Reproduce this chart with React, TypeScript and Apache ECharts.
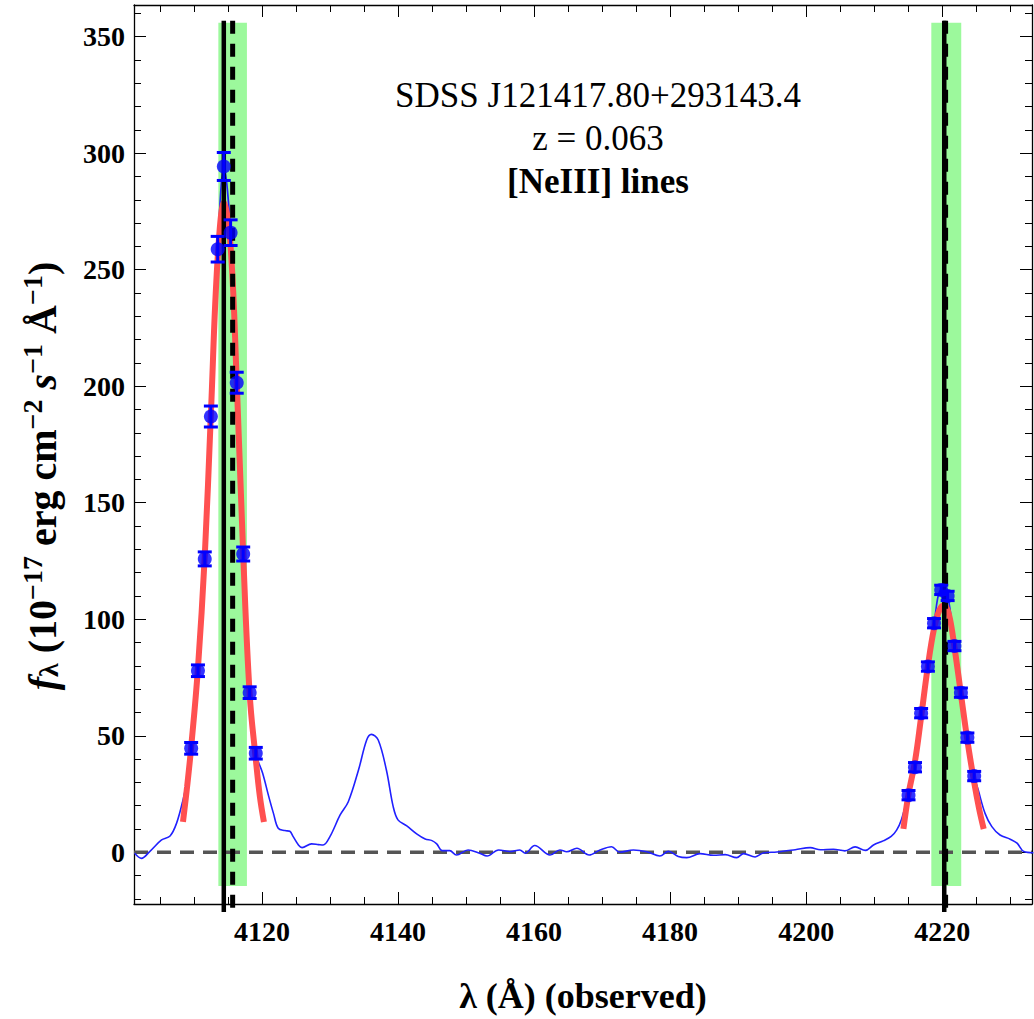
import React, { useEffect, useRef } from "react";
import * as echarts from "echarts";

// ---- data ----
const xRange = [4101.2, 4233.2];
const yRange = [-22.2, 363.6];

// thin blue spectrum [lambda, flux]
const spectrum: number[][] = [
  [4101.3, -0.4], [4102.3, -2.6], [4103.5, 0.3], [4105.25, 5.3], [4106.5, 7.0], [4107.45, 12.4],
  [4108.4, 22.4], [4109.0, 31], [4109.6, 44.6], [4110.6, 77.9], [4111.6, 125.9], [4112.5, 187.0],
  [4113.5, 258.8], [4114.4, 294.3], [4115.4, 265.9], [4116.3, 201.5], [4117.25, 128.0], [4118.2, 68.5],
  [4119.1, 42.5], [4120.1, 34], [4121.0, 24], [4121.7, 16.7], [4122.4, 10.3], [4123.4, 9.3],
  [4124.1, 9.0], [4124.6, 6.7], [4125.4, 3.0], [4125.9, 2.0], [4127.3, 3.6], [4128.3, 3.3],
  [4129.0, 3.1], [4130.0, 6.7], [4131.5, 16.0], [4132.7, 21.7], [4134.2, 35.3], [4135.4, 48.2],
  [4136.1, 50.6], [4137.1, 48.2], [4138.3, 35.3], [4139.3, 19.6], [4140.0, 13.9], [4141.3, 11.3],
  [4142.75, 7.9], [4144.0, 5.7], [4145.0, 5.0], [4145.7, 3.6], [4146.5, 0.7], [4147.6, 0.7],
  [4148.6, -1.2], [4150.3, 1.0], [4152.0, -0.4], [4153.1, -1.6], [4154.8, 1.0], [4156.5, 0.3],
  [4157.9, 1.0], [4158.7, -0.4], [4160.1, 2.9], [4162.35, -1.2], [4163.8, 1.0], [4164.8, 0.2],
  [4166.3, 1.7], [4168.1, -1.2], [4169.7, 1.0], [4171.4, 2.4], [4172.6, 0], [4174.6, 1.0],
  [4176.6, 0.2], [4178.5, -1.6], [4179.75, 0.4], [4181.2, -1.8], [4182.45, -2.3], [4184.4, -0.6],
  [4186.4, -1.3], [4188.1, -1.0], [4189.8, -2.3], [4190.8, -0.6], [4192.5, -2.0], [4193.7, -0.3],
  [4195.7, 0.1], [4198.4, 1.1], [4200.6, 2.0], [4202.1, 1.1], [4204.0, 1.3], [4205.7, 0.6],
  [4207.2, 2.3], [4208.7, 0.8], [4209.9, 3.1], [4211.4, 5.0], [4212.5, 6.8], [4213.3, 9.5],
  [4214.0, 14], [4215.05, 25], [4216.0, 36.5], [4216.9, 59.7], [4217.9, 79.7], [4218.8, 98.3],
  [4219.85, 112.6], [4220.8, 110.0], [4221.8, 88.5], [4222.75, 68.5], [4223.7, 49.2], [4224.7, 32.7],
  [4225.3, 26.7], [4226.3, 16.7], [4227.3, 11.0], [4228.5, 7.4], [4230.0, 5.6], [4231.0, 3.9],
  [4232.0, 0.3], [4233.4, -0.2],
];

// measured points with errors [lambda, flux, err]
const pointsLeft: number[][] = [
  [4109.6, 44.6, 2.5], [4110.6, 77.9, 2.5], [4111.6, 125.9, 3], [4112.5, 187.0, 4.5],
  [4113.5, 258.8, 5.5], [4114.4, 294.3, 6], [4115.4, 265.9, 5.5], [4116.3, 201.5, 4.5],
  [4117.25, 128.0, 3], [4118.2, 68.5, 2.5], [4119.1, 42.5, 2.5],
];
const pointsRight: number[][] = [
  [4215.05, 24.5, 2], [4216.0, 36.5, 2], [4216.9, 59.7, 2], [4217.9, 79.7, 2],
  [4218.8, 98.3, 2], [4219.85, 112.6, 2], [4220.8, 110.0, 2], [4221.8, 88.5, 2],
  [4222.75, 68.5, 2], [4223.7, 49.2, 2], [4224.7, 32.7, 2],
];

// red fitted profiles
const fitLeft: number[][] = [
  [4108.4, 13], [4109.0, 28], [4109.6, 45], [4110.6, 79], [4111.6, 127], [4112.5, 188],
  [4113.5, 255], [4114.45, 279], [4115.4, 260], [4116.3, 202], [4117.25, 128], [4118.2, 68],
  [4119.1, 40], [4119.7, 24], [4120.3, 13],
];
const fitRight: number[][] = [
  [4214.3, 10], [4215.05, 25], [4216.0, 39], [4216.9, 58], [4217.9, 80], [4218.8, 96],
  [4219.6, 104], [4220.3, 106], [4221.0, 102], [4221.8, 88], [4222.75, 68], [4223.7, 48],
  [4224.7, 30], [4225.4, 19], [4226.1, 10],
];

// reference lines
const solidLines = [4114.4, 4220.3];
const dashedLines = [4115.7, 4220.5];
const lineSpan = [-25.6, 356.8];
const bands: number[][] = [[4113.6, 4117.8], [4218.4, 4222.8]];
const bandSpan = [-14.5, 356];

const annot = ["SDSS J121417.80+293143.4", "z = 0.063", "[NeIII] lines"];
const yTitle = "{it|f}{sub|λ}{b| (10}{sup|−17}{b| erg cm}{sup|−2}{it| s}{sup|−1}{b| Å}{sup|−1}{b|)}";
const xTitle = "λ (Å) (observed)";

const SERIF = "'Liberation Serif', 'Times New Roman', serif";

export default function App() {
  const ref = useRef<HTMLDivElement>(null);
  useEffect(() => {
    if (!ref.current) return;
    const chart = echarts.init(ref.current, undefined, { renderer: "svg" });

    const tickCommon = {
      axisLine: { show: true, onZero: false, lineStyle: { color: "#000", width: 1.3 } },
      axisTick: { show: true, inside: true, length: 12, lineStyle: { color: "#000", width: 1 } },
      splitLine: { show: false },
    };
    const xBase = {
      type: "value", min: xRange[0], max: xRange[1], splitNumber: 7, minInterval: 20, maxInterval: 20,
      ...tickCommon,
      minorTick: { show: true, splitNumber: 4, length: 7, lineStyle: { color: "#000", width: 1 } },
    };
    const yBase = {
      type: "value", min: yRange[0], max: yRange[1], splitNumber: 8, minInterval: 50, maxInterval: 50,
      ...tickCommon,
      minorTick: { show: true, splitNumber: 5, length: 7, lineStyle: { color: "#000", width: 1 } },
    };
    const labelStyle = {
      fontFamily: SERIF, fontSize: 28, fontWeight: "bold", color: "#000",
      showMinLabel: false, showMaxLabel: false,
      formatter: (v: number) => String(v),
    };

    const vline = (x: number) => [[x, lineSpan[1]], [x, lineSpan[0]]];

    const errorBar = (params: any, api: any) => {
      const x = api.value(0), lo = api.value(1), hi = api.value(2);
      const p1 = api.coord([x, lo]);
      const p2 = api.coord([x, hi]);
      const w = 7;
      const style = { stroke: "#0000ff", lineWidth: 3 };
      return {
        type: "group",
        children: [
          { type: "line", shape: { x1: p1[0], y1: p1[1], x2: p2[0], y2: p2[1] }, style },
          { type: "line", shape: { x1: p1[0] - w, y1: p1[1], x2: p1[0] + w, y2: p1[1] }, style },
          { type: "line", shape: { x1: p2[0] - w, y1: p2[1], x2: p2[0] + w, y2: p2[1] }, style },
        ],
      };
    };
    const allPts = pointsLeft.concat(pointsRight);

    const bandRender = (params: any, api: any) => {
      const x0 = api.value(0), x1 = api.value(1);
      const a = api.coord([x0, bandSpan[1]]);
      const b = api.coord([x1, bandSpan[0]]);
      return {
        type: "rect",
        shape: { x: a[0], y: a[1], width: b[0] - a[0], height: b[1] - a[1] },
        style: { fill: "#9cf99c" },
      };
    };

    const main = { fontFamily: SERIF, fontSize: 40, fontWeight: "bold", color: "#000", lineHeight: 44, verticalAlign: "bottom" };

    const option: any = {
      animation: false,
      backgroundColor: "#fff",
      grid: { left: 134, top: 5, right: 2, bottom: 115, containLabel: false },
      xAxis: [
        {
          ...xBase, position: "bottom",
          axisLabel: { ...labelStyle, margin: 13 },
          name: xTitle, nameLocation: "middle", nameGap: 74,
          nameTextStyle: { fontFamily: SERIF, fontSize: 36, fontWeight: "bold", color: "#000" },
        },
        { ...xBase, position: "top", axisLabel: { show: false } },
      ],
      yAxis: [
        { ...yBase, position: "left", axisLabel: { ...labelStyle, margin: 9 } },
        { ...yBase, position: "right", axisLabel: { show: false } },
      ],
      graphic: [
        ...annot.map((t, i) => ({
          type: "text",
          x: 598,
          y: 95 + i * 43,
          z: 100,
          style: {
            text: t,
            fontFamily: SERIF,
            fontSize: 35,
            fontWeight: i === 2 ? "bold" : "normal",
            fill: "#000",
            textAlign: "center",
            textVerticalAlign: "middle",
          },
        })),
        {
          type: "text",
          x: 40,
          y: 476,
          rotation: Math.PI / 2,
          z: 100,
          style: {
            text: yTitle,
            textAlign: "center",
            textVerticalAlign: "middle",
            fill: "#000",
            rich: {
              b: main,
              it: { ...main, fontStyle: "italic" },
              sup: { fontFamily: SERIF, fontSize: 28, fontWeight: "bold", color: "#000", lineHeight: 26, verticalAlign: "top" },
              sub: { fontFamily: SERIF, fontSize: 28, fontWeight: "bold", color: "#000", lineHeight: 18, verticalAlign: "bottom" },
            },
          },
        },
      ],
      series: [
        {
          type: "custom", name: "bands", renderItem: bandRender, data: bands,
          encode: { x: [0, 1] }, z: 1, silent: true,
        },
        {
          type: "line", name: "zero", data: [[xRange[0], 0], [xRange[1], 0]], symbol: "none",
          lineStyle: { color: "#555", width: 3.5, type: [14, 9] }, z: 2, silent: true,
        },
        {
          type: "line", name: "spectrum", data: spectrum, symbol: "none", smooth: 0.35,
          lineStyle: { color: "#2020ff", width: 1.6 }, z: 3,
        },
        {
          type: "line", name: "fitL", data: fitLeft, symbol: "none", smooth: 0.4,
          lineStyle: { color: "#ff5050", width: 6 }, z: 4,
        },
        {
          type: "line", name: "fitR", data: fitRight, symbol: "none", smooth: 0.4,
          lineStyle: { color: "#ff5050", width: 6 }, z: 4,
        },
        ...solidLines.map((x) => ({
          type: "line", data: vline(x), symbol: "none", clip: false,
          lineStyle: { color: "#000", width: 4.5 }, z: 5,
        })),
        ...dashedLines.map((x) => ({
          type: "line", data: vline(x), symbol: "none", clip: false,
          lineStyle: { color: "#000", width: 5, type: [13, 10] }, z: 5,
        })),
        {
          type: "custom", name: "err", renderItem: errorBar,
          data: allPts.map((p) => [p[0], p[1] - p[2], p[1] + p[2]]),
          encode: { x: 0, y: [1, 2] }, z: 6,
        },
        {
          type: "scatter", name: "points", data: allPts.map((p) => [p[0], p[1]]),
          symbol: "circle", symbolSize: 14, itemStyle: { color: "#0000ff" }, z: 7,
        },
      ],
    };
    chart.setOption(option);
    return () => chart.dispose();
  }, []);
  return (
    <div
      ref={ref}
      style={{ position: "absolute", left: 0, top: 0, width: 1034, height: 1019, background: "#fff" }}
    />
  );
}
